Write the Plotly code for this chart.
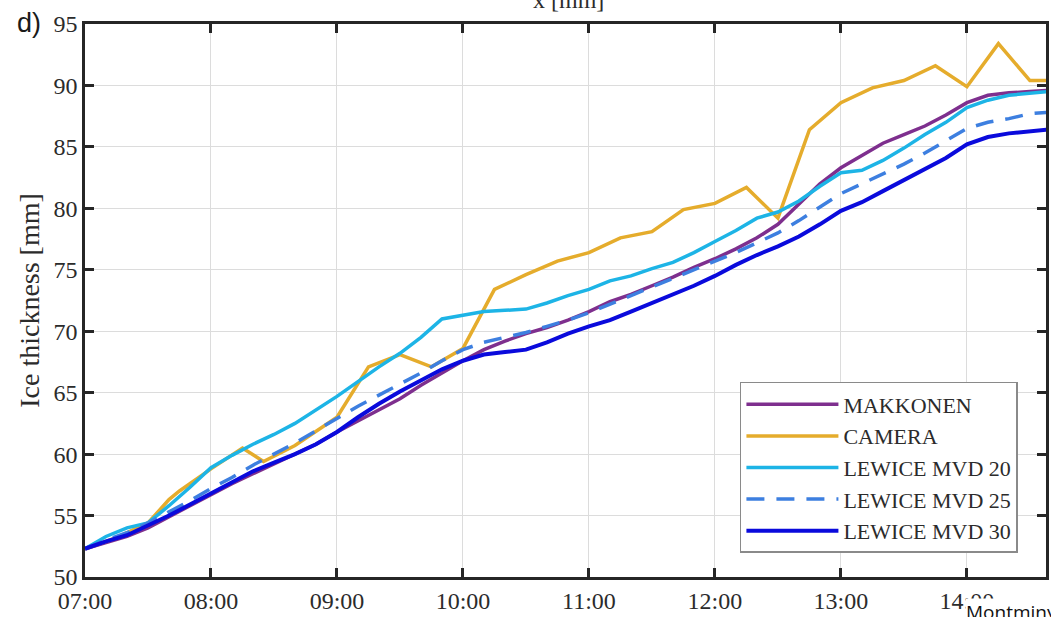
import plotly.graph_objects as go

DAY = "2000-01-01 "

# Model time grid (HH:MM)
model_times = ["07:00", "07:10", "07:20", "07:30", "07:40", "07:50", "08:00", "08:10", "08:20", "08:30",
               "08:40", "08:50", "09:00", "09:10", "09:20", "09:30", "09:40", "09:50", "10:00", "10:10",
               "10:20", "10:30", "10:40", "10:50", "11:00", "11:10", "11:20", "11:30", "11:40", "11:50",
               "12:00", "12:10", "12:20", "12:30", "12:40", "12:50", "13:00", "13:10", "13:20", "13:30",
               "13:40", "13:50", "14:00", "14:10", "14:20", "14:30", "14:38"]

makkonen = [52.3, 52.8, 53.3, 54.0, 54.9, 55.8, 56.7, 57.6, 58.4, 59.2,
            60.0, 60.8, 61.8, 62.7, 63.6, 64.5, 65.6, 66.6, 67.6, 68.5,
            69.2, 69.8, 70.3, 70.9, 71.6, 72.4, 73.0, 73.7, 74.4, 75.2,
            75.9, 76.7, 77.6, 78.7, 80.4, 82.0, 83.3, 84.3, 85.3, 86.0,
            86.7, 87.6, 88.6, 89.2, 89.4, 89.5, 89.6]

lewice20 = [52.3, 53.3, 54.0, 54.4, 55.8, 57.3, 58.9, 59.9, 60.8, 61.6,
            62.5, 63.6, 64.7, 65.9, 67.1, 68.2, 69.5, 71.0, 71.3, 71.6,
            71.7, 71.8, 72.3, 72.9, 73.4, 74.1, 74.5, 75.1, 75.6, 76.4,
            77.3, 78.2, 79.2, 79.7, 80.6, 81.8, 82.9, 83.1, 83.9, 84.9,
            86.0, 87.0, 88.2, 88.8, 89.2, 89.4, 89.5]

lewice25 = [52.3, 53.0, 53.6, 54.4, 55.3, 56.2, 57.2, 58.1, 59.1, 60.0,
            60.9, 61.9, 62.9, 63.9, 64.8, 65.7, 66.6, 67.6, 68.5, 69.1,
            69.5, 69.9, 70.4, 70.9, 71.5, 72.2, 72.9, 73.6, 74.3, 75.0,
            75.7, 76.4, 77.2, 78.0, 79.0, 80.1, 81.2, 82.0, 82.8, 83.6,
            84.5, 85.5, 86.5, 87.0, 87.3, 87.7, 87.8]

lewice30 = [52.3, 52.9, 53.4, 54.2, 55.0, 55.9, 56.8, 57.7, 58.6, 59.3,
            60.0, 60.8, 61.8, 63.0, 64.1, 65.1, 66.0, 66.9, 67.6, 68.1,
            68.3, 68.5, 69.1, 69.8, 70.4, 70.9, 71.6, 72.3, 73.0, 73.7,
            74.5, 75.4, 76.2, 76.9, 77.7, 78.7, 79.8, 80.5, 81.4, 82.3,
            83.2, 84.1, 85.2, 85.8, 86.1, 86.3, 86.4]

camera_times = ["07:00", "07:15", "07:30", "07:40", "07:45", "08:00", "08:15", "08:25", "08:40", "09:00",
                "09:15", "09:30", "09:45", "10:00", "10:15", "10:30", "10:45", "11:00", "11:15", "11:30",
                "11:45", "12:00", "12:15", "12:30", "12:45", "13:00", "13:15", "13:30", "13:45", "14:00",
                "14:15", "14:30", "14:38"]
camera = [52.3, 53.2, 54.4, 56.3, 57.0, 58.8, 60.5, 59.4, 60.7, 63.0,
          67.1, 68.1, 67.1, 68.6, 73.4, 74.6, 75.7, 76.4, 77.6, 78.1,
          79.9, 80.4, 81.7, 79.2, 86.4, 88.6, 89.8, 90.4, 91.6, 89.9,
          93.4, 90.4, 90.4]

hour_ticks = ["07:00", "08:00", "09:00", "10:00", "11:00", "12:00", "13:00", "14:00"]
y_ticks = [50, 55, 60, 65, 70, 75, 80, 85, 90, 95]

def tt(lst):
    return [DAY + t for t in lst]

SERIF = "Liberation Serif"
TXT = "#2b2b2b"
fig = go.Figure()
fig.add_trace(go.Scatter(x=tt(model_times), y=makkonen, mode="lines", name="MAKKONEN",
                         line=dict(color="#7E2F8E", width=3.5)))
fig.add_trace(go.Scatter(x=tt(camera_times), y=camera, mode="lines", name="CAMERA",
                         line=dict(color="#E5AC2C", width=3.5)))
fig.add_trace(go.Scatter(x=tt(model_times), y=lewice20, mode="lines", name="LEWICE MVD 20",
                         line=dict(color="#1DB4E6", width=3.5)))
fig.add_trace(go.Scatter(x=tt(model_times), y=lewice25, mode="lines", name="LEWICE MVD 25",
                         line=dict(color="#3D7FE0", width=3.5, dash="18px,12px")))
fig.add_trace(go.Scatter(x=tt(model_times), y=lewice30, mode="lines", name="LEWICE MVD 30",
                         line=dict(color="#0A0ADC", width=4)))

fig.update_layout(
    width=1051, height=617,
    margin=dict(l=85, r=2, t=24, b=40),
    paper_bgcolor="white", plot_bgcolor="white",
    font=dict(family=SERIF, size=24, color=TXT),
    showlegend=True,
    legend=dict(x=0.6815, y=0.0434, xanchor="left", yanchor="bottom",
                bgcolor="white", bordercolor="#8a8a8a", borderwidth=1.5,
                font=dict(family=SERIF, size=22, color=TXT),
                itemwidth=92, tracegroupgap=0),
    xaxis=dict(type="date",
               range=[DAY + "07:00", DAY + "14:37:40"],
               tickvals=tt(hour_ticks), ticktext=hour_ticks,
               showgrid=True, gridcolor="#dcdcdc", gridwidth=1,
               showline=True, linecolor="#262626", linewidth=2.5, mirror="ticks",
               ticks="inside", ticklen=9, tickwidth=2.5, tickcolor="#262626",
               tickfont=dict(family=SERIF, size=24, color=TXT), zeroline=False),
    yaxis=dict(range=[50, 95], tickvals=y_ticks,
               showgrid=True, gridcolor="#dcdcdc", gridwidth=1,
               showline=True, linecolor="#262626", linewidth=2.5, mirror="ticks",
               ticks="inside", ticklen=9, tickwidth=2.5, tickcolor="#262626",
               tickfont=dict(family=SERIF, size=24, color=TXT), zeroline=False,
               title=dict(text="Ice thickness [mm]", font=dict(family=SERIF, size=28, color=TXT),
                          standoff=6)),
)

fig.add_annotation(text="d)", xref="paper", yref="paper", x=0, y=1, xanchor="right", yanchor="middle",
                   xshift=-42, yshift=1, showarrow=False,
                   font=dict(family="Liberation Sans", size=27, color="#1a1a1a"))
fig.add_annotation(text="x [mm]", xref="paper", yref="paper", x=0.503, y=1, xanchor="center", yanchor="bottom",
                   yshift=9, showarrow=False,
                   font=dict(family=SERIF, size=24, color=TXT))
fig.add_annotation(text="Montminy", xref="paper", yref="paper", x=0, y=0, xanchor="left", yanchor="top",
                   xshift=880, yshift=-21, showarrow=False, bgcolor="white", borderpad=0,
                   font=dict(family="Open Sans", size=19, color="#111111"))

fig.write_html("out.html")
